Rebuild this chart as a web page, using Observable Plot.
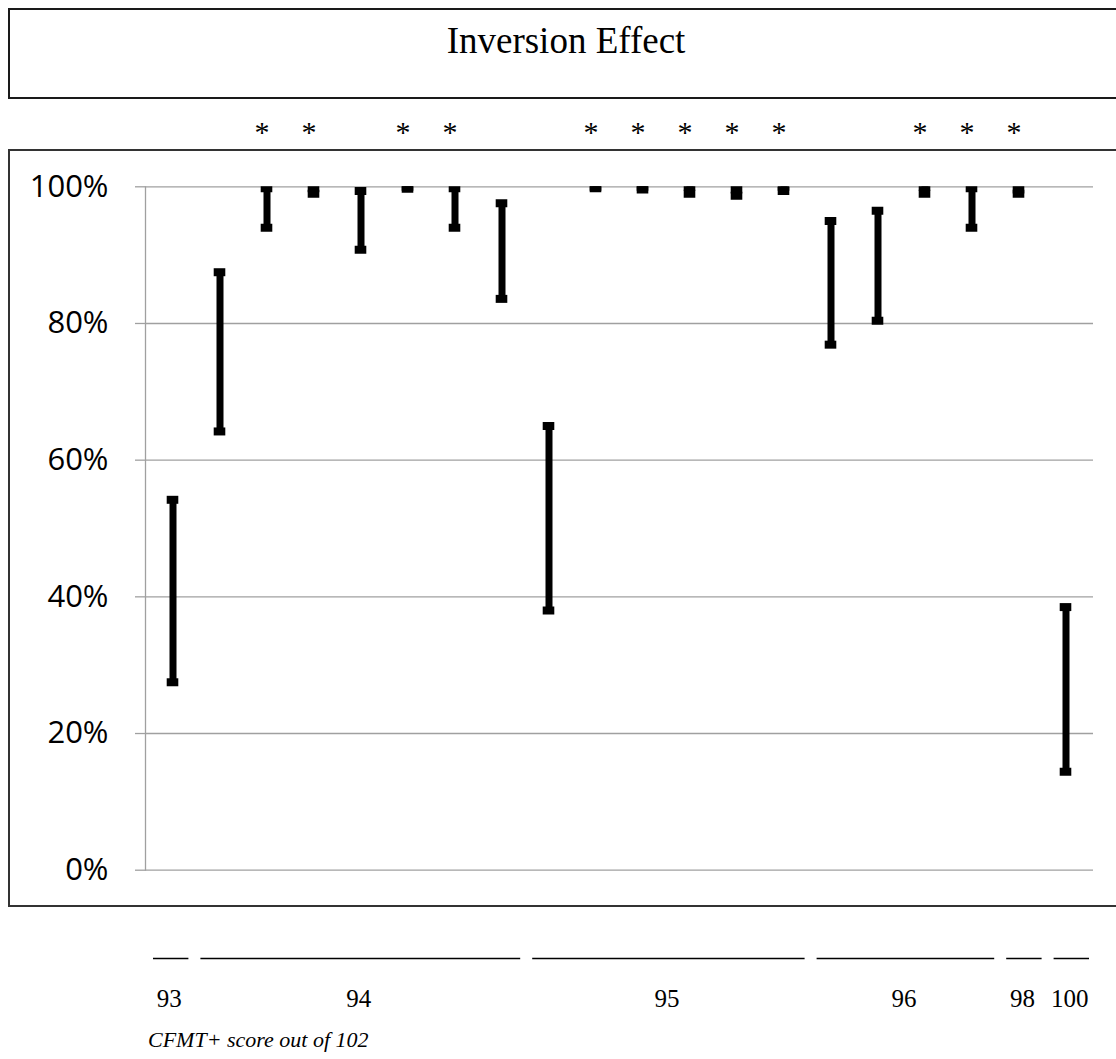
<!DOCTYPE html>
<html>
<head>
<meta charset="utf-8">
<script src="https://cdn.jsdelivr.net/npm/d3@7"></script>
<script src="https://cdn.jsdelivr.net/npm/@observablehq/plot@0.6"></script>
<style>
  html, body { margin: 0; padding: 0; background: #fff; overflow: hidden; width: 1116px; height: 1059px; }
  #page { position: relative; width: 1116px; height: 1059px; overflow: hidden; }
  #titlebox { position: absolute; left: 8px; top: 8px; right: -60px; height: 91px; border: 2px solid #1a1a1a; box-sizing: border-box; }
  #title { position: absolute; left: 0; width: 1132px; top: 22px; text-align: center; font-family: "Times New Roman", "Liberation Serif", Tinos, serif; font-size: 37px; line-height: 1; color: #000; }
  #framebox { position: absolute; left: 8px; top: 149px; right: -60px; height: 758px; border: 2px solid #333; box-sizing: border-box; pointer-events: none; }
  #main { position: absolute; left: 0; top: 100px; }
  #bottom { position: absolute; left: 0; top: 905px; }
  #caption { position: absolute; left: 148px; top: 1029px; font-family: "Times New Roman", "Liberation Serif", Tinos, serif; font-style: italic; font-size: 22px; line-height: 1; color: #000; }
</style>
</head>
<body>
<div id="page">
<div id="titlebox"></div>
<div id="title">Inversion Effect</div>
<div id="main"></div>
<div id="framebox"></div>
<div id="bottom"></div>
<div id="caption">CFMT+ score out of 102</div>
</div>
<script>
// Participants (one error bar each), ordered by CFMT+ score
const participants = ["1","2","3","4","5","6","7","8","9","10","11","12","13","14","15","16","17","18","19","20"];
// Upper and lower ends of each bar (% correct)
const highValues = [54.2, 87.5, 99.8, 99.8, 99.4, 100, 99.8, 97.6, 65.0, 100, 100, 100, 99.6, 100, 95.0, 96.5, 100, 99.8, 99.6, 38.5];
const lowValues  = [27.5, 64.2, 94.0, 99.0, 90.8, 99.7, 94.0, 83.6, 38.0, 99.8, 99.6, 99.0, 98.7, 99.4, 76.9, 80.4, 99.0, 94.0, 99.0, 14.4];
// Participants marked with an asterisk
const significant = ["3","4","6","7","10","11","12","13","14","17","18","19"];
// Y ticks
const yTicks = [0, 20, 40, 60, 80, 100];
// CFMT+ score groups (first and last participant of each group)
const groupLabels = ["93", "94", "95", "96", "98", "100"];
const groupStart  = [1, 2, 9, 15, 19, 20];
const groupEnd    = [1, 8, 14, 18, 19, 20];

const rows = participants.map((id, i) => ({id, high: highValues[i], low: lowValues[i], sig: significant.includes(id)}));
const groups = groupLabels.map((label, i) => ({label, start: groupStart[i], end: groupEnd[i]}));

const SERIF = "'Times New Roman', 'Liberation Serif', Tinos, serif";
const W = 1116, ML = 145, MR = 23;
const capInset = ((W - ML - MR) / participants.length - 12) / 2;

const main = Plot.plot({
  width: W,
  height: 805,
  marginLeft: ML,
  marginRight: MR,
  marginTop: 86.3,
  marginBottom: 35.3,
  style: {background: "transparent", color: "#000", overflow: "visible"},
  x: {type: "band", domain: participants, padding: 0, axis: null},
  y: {domain: [0, 100], axis: null},
  marks: [
    Plot.gridY(yTicks, {stroke: "#a0a0a0", strokeOpacity: 1, strokeWidth: 1.3}),
    Plot.axisY(yTicks, {
      tickSize: 10, tickPadding: 27, stroke: "#a0a0a0", strokeOpacity: 1, strokeWidth: 1.3,
      tickFormat: d => d + "%", fontFamily: "'Open Sans', 'Liberation Sans', sans-serif", fontSize: 31, fill: "#000"
    }),
    Plot.frame({anchor: "left", stroke: "#a0a0a0", strokeOpacity: 1, strokeWidth: 1.3}),
    Plot.ruleX(rows, {x: "id", y1: "low", y2: "high", stroke: "#000", strokeWidth: 7, clip: true}),
    Plot.tickY(rows, {x: "id", y: "high", stroke: "#000", strokeWidth: 8, insetLeft: capInset, insetRight: capInset, clip: true}),
    Plot.tickY(rows, {x: "id", y: "low", stroke: "#000", strokeWidth: 8, insetLeft: capInset, insetRight: capInset, clip: true}),
    Plot.text(rows.filter(d => d.sig), {
      x: "id", y: () => 100, text: () => "*", dy: -45, dx: -5, lineAnchor: "bottom",
      fontFamily: SERIF, fontSize: 30, fill: "#000"
    })
  ]
});
document.getElementById("main").appendChild(main);

const bottom = Plot.plot({
  width: W,
  height: 154,
  marginLeft: ML,
  marginRight: MR,
  marginTop: 0,
  marginBottom: 0,
  style: {background: "transparent", color: "#000", overflow: "visible"},
  x: {domain: [0.5, participants.length + 0.5], axis: null},
  y: {domain: [0, 1], range: [53, 93], axis: null},
  marks: [
    Plot.ruleY(groups, {x1: d => d.start - 0.5, x2: d => d.end + 0.5, y: () => 0, stroke: "#000", strokeWidth: 1.5, insetLeft: 8, insetRight: 4}),
    Plot.text(groups, {
      x: d => (d.start + d.end) / 2, y: () => 1, text: "label", lineAnchor: "middle",
      fontFamily: SERIF, fontSize: 25, fill: "#000"
    })
  ]
});
document.getElementById("bottom").appendChild(bottom);
</script>
</body>
</html>
